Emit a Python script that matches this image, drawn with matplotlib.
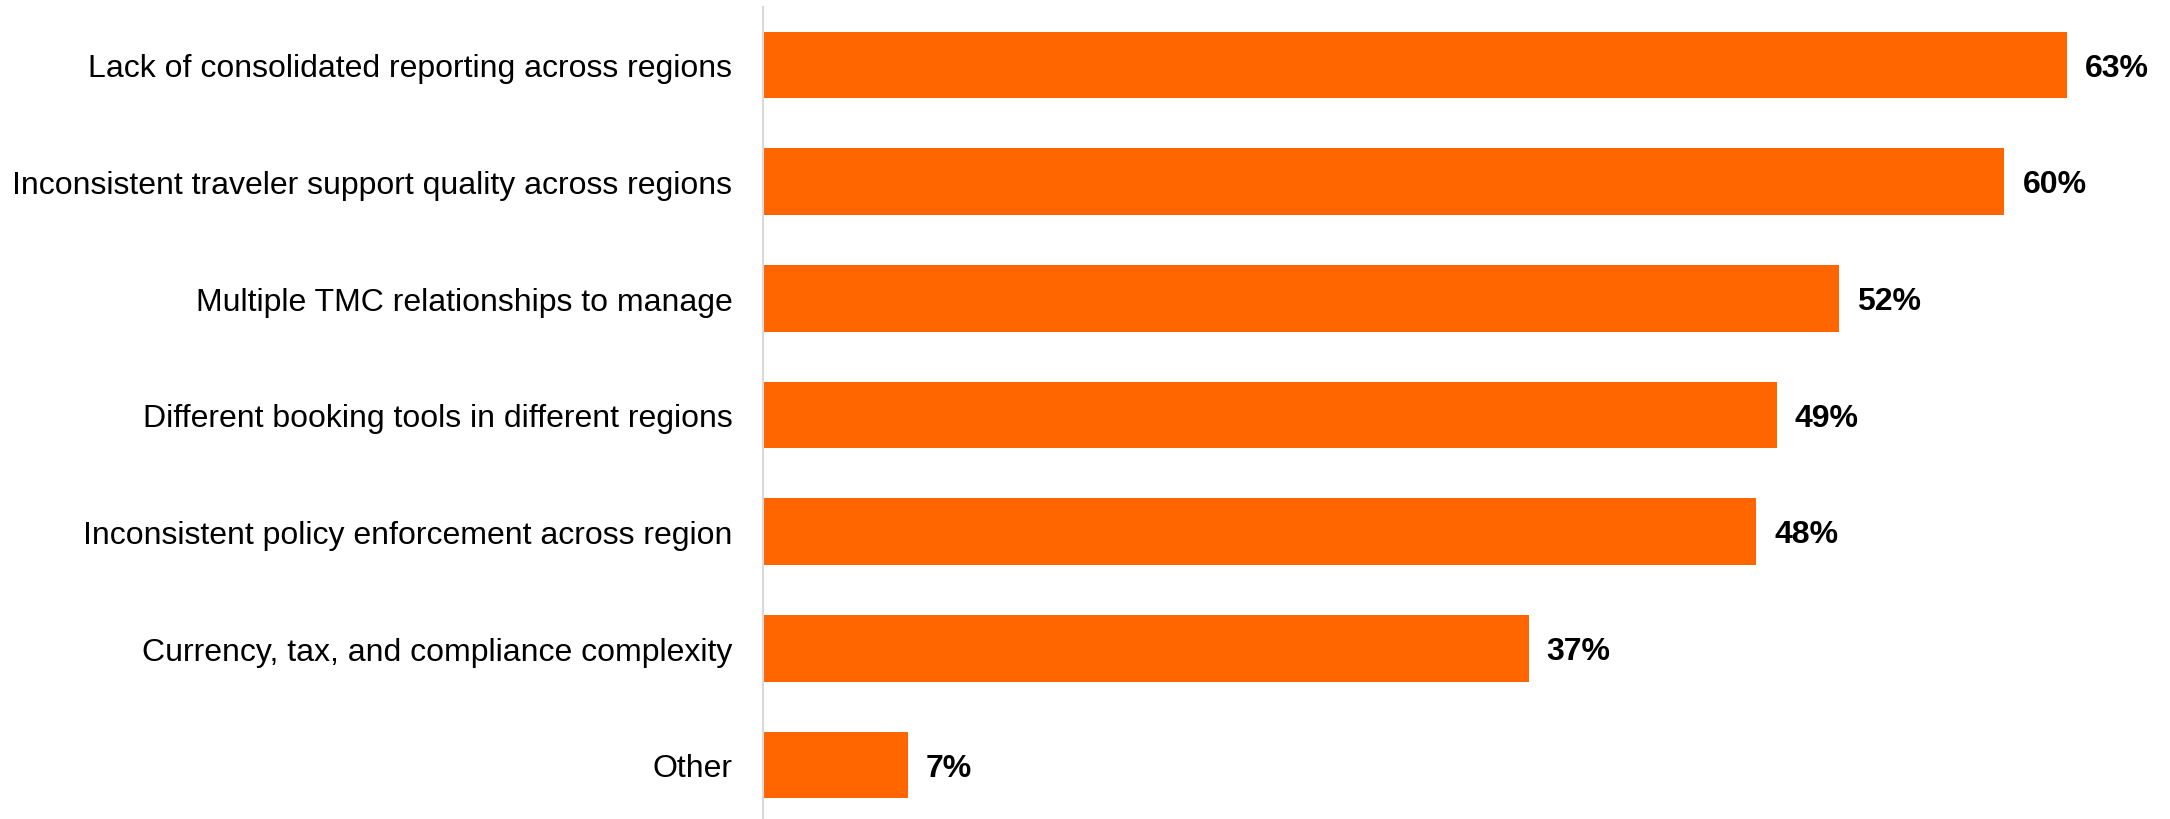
import matplotlib.pyplot as plt

categories = [
    "Lack of consolidated reporting across regions",
    "Inconsistent traveler support quality across regions",
    "Multiple TMC relationships to manage",
    "Different booking tools in different regions",
    "Inconsistent policy enforcement across region",
    "Currency, tax, and compliance complexity",
    "Other",
]
values = [63, 60, 52, 49, 48, 37, 7]

plt.rcParams["font.family"] = ["Liberation Sans", "DejaVu Sans"]

fig = plt.figure(figsize=(21.7, 8.2), dpi=100)
ax = fig.add_axes([763 / 2170, 0, (2170 - 763) / 2170, 812 / 820])

y = range(len(categories))
ax.barh(y, values, height=0.57, color="#FF6600")

for i, v in zip(y, values):
    ax.annotate(f"{v}%", xy=(v, i), xytext=(13, -2), textcoords="offset points",
                va="center", ha="left", fontsize=23, fontweight="bold", color="black")

ax.set_yticks(list(y))
ax.set_yticklabels(categories, fontsize=23, va="center_baseline")
ax.tick_params(axis="y", length=0, pad=22)
ax.set_xticks([])
ax.set_xlim(0, 68)
ax.set_ylim(6.463, -0.497)

for s in ["top", "right", "bottom"]:
    ax.spines[s].set_visible(False)
ax.spines["left"].set_color("#D9D9D9")
ax.spines["left"].set_linewidth(1.5)

fig.savefig("out.png", dpi=100)
